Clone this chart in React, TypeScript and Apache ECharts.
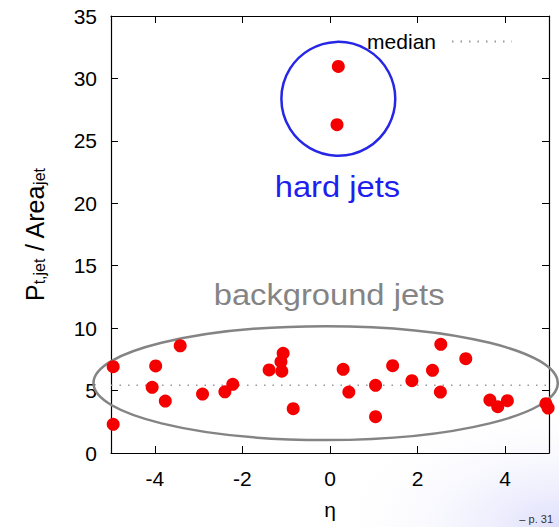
import React, { useEffect, useRef } from 'react';
import * as echarts from 'echarts';

// background jets (eta, pt/area)
const bgEta = [-4.95, -4.95, -3.98, -4.06, -3.76, -3.42, -2.91, -2.40, -2.22, -1.39, -1.07, -1.12, -1.10, -0.84, 0.30, 0.43, 1.04, 1.04, 1.43, 1.87, 2.34, 2.53, 2.52, 3.10, 3.65, 3.83, 4.05, 4.93, 4.98];
const bgVal = [6.91, 2.30, 6.97, 5.26, 4.16, 8.59, 4.72, 4.90, 5.50, 6.65, 7.98, 7.30, 6.55, 3.55, 6.70, 4.88, 5.42, 2.91, 6.99, 5.79, 6.62, 8.70, 4.88, 7.55, 4.24, 3.71, 4.19, 3.95, 3.60];
// hard jets
const hardEta = [0.19, 0.16];
const hardVal = [30.96, 26.3];
// median of background
const medianVal = 5.42;
const xExtent = [-5, 5];
const yExtent = [0, 35];
const yInterval = 5;

const FONT = '"Liberation Sans", Arial, Helvetica, sans-serif';

export default function App() {
  const ref = useRef<HTMLDivElement>(null);
  useEffect(() => {
    if (!ref.current) return;
    const chart = echarts.init(ref.current, undefined, { renderer: 'svg' });
    const axisCommon = {
      axisLine: { show: true, onZero: false, lineStyle: { color: '#000', width: 1.2 } },
      axisTick: { show: true, inside: true, length: 7, lineStyle: { color: '#000', width: 1 } },
      splitLine: { show: false },
    };
    chart.setOption({
      animation: false,
      backgroundColor: '#fff',
      grid: { left: 111, right: 10, top: 16, bottom: 74, containLabel: false },
      legend: {
        data: ['median'],
        right: 41,
        top: 26,
        align: 'right',
        itemWidth: 60,
        itemHeight: 10,
        itemStyle: { opacity: 0 },
        textStyle: { fontFamily: FONT, fontSize: 21, color: '#000', padding: [0, 11, 0, 0] },
      },
      xAxis: [
        {
          type: 'value',
          min: xExtent[0],
          max: xExtent[1],
          splitNumber: 5,
          ...axisCommon,
          axisLabel: { showMinLabel: false, showMaxLabel: false, margin: 15, fontFamily: FONT, fontSize: 21, color: '#000' },
          name: 'η',
          nameLocation: 'middle',
          nameGap: 46,
          nameTextStyle: { fontFamily: FONT, fontSize: 21, color: '#000' },
        },
        {
          type: 'value',
          position: 'top',
          min: xExtent[0],
          max: xExtent[1],
          splitNumber: 5,
          ...axisCommon,
          axisLabel: { show: false },
        },
      ],
      yAxis: [
        {
          type: 'value',
          min: yExtent[0],
          max: yExtent[1],
          interval: yInterval,
          ...axisCommon,
          axisLabel: { margin: 14, fontFamily: FONT, fontSize: 21, color: '#000' },
          name: '{m|P}{s|t,jet}{m| / Area}{s|jet}',
          nameLocation: 'middle',
          nameRotate: 90,
          nameGap: 64,
          nameTextStyle: {
            fontFamily: FONT,
            color: '#000',
            rich: {
              m: { fontFamily: FONT, fontSize: 25, lineHeight: 25, verticalAlign: 'top', padding: [0, 0, 5, 0], color: '#000' },
              s: { fontFamily: FONT, fontSize: 16, lineHeight: 16, verticalAlign: 'bottom', color: '#000' },
            },
          },
        },
        {
          type: 'value',
          position: 'right',
          min: yExtent[0],
          max: yExtent[1],
          interval: yInterval,
          ...axisCommon,
          axisLabel: { show: false },
        },
      ],
      series: [
        {
          name: 'median',
          type: 'line',
          symbol: 'none',
          data: [[xExtent[0], medianVal], [xExtent[1], medianVal]],
          lineStyle: { color: '#999', width: 1.5, type: [1.5, 7] },
          itemStyle: { color: '#999' },
          z: 1,
        },
        {
          name: 'background',
          type: 'scatter',
          symbolSize: 13,
          clip: false,
          itemStyle: { color: '#f50000', opacity: 1 },
          data: bgEta.map((e, i) => [e, bgVal[i]]),
          z: 3,
        },
        {
          name: 'hard',
          type: 'scatter',
          symbolSize: 13,
          clip: false,
          itemStyle: { color: '#f50000', opacity: 1 },
          data: hardEta.map((e, i) => [e, hardVal[i]]),
          z: 3,
        },
      ],
    });

    const px = (x: number, y: number) => chart.convertToPixel({ gridIndex: 0 }, [x, y]) as number[];
    const unitX = px(1, 0)[0] - px(0, 0)[0];
    const unitY = px(0, 0)[1] - px(0, 1)[1];
    const circC = px(0.19, 28.37);
    const ellC = px(-0.10, 5.6);
    const hardLbl = px(0.17, 21.3);
    const bgLbl = px(-0.02, 12.65);

    chart.setOption({
      graphic: [
        {
          type: 'rect',
          z: -10,
          silent: true,
          shape: { x: 330, y: 400, width: 229, height: 127 },
          style: {
            fill: new echarts.graphic.RadialGradient(1, 1, 1, [
              { offset: 0, color: 'rgba(200,200,250,0.6)' },
              { offset: 1, color: 'rgba(255,255,255,0)' },
            ]),
          },
        },
        {
          type: 'circle',
          silent: true,
          z: 1,
          shape: { cx: circC[0], cy: circC[1], r: 4.56 * unitY },
          style: { fill: 'none', stroke: '#2626e6', lineWidth: 2.5 },
        },
        {
          type: 'ellipse',
          silent: true,
          z: 1,
          shape: { cx: ellC[0], cy: ellC[1], rx: 5.3 * unitX, ry: 4.56 * unitY },
          style: { fill: 'none', stroke: '#848484', lineWidth: 2.5 },
        },
        {
          type: 'text',
          silent: true,
          x: hardLbl[0],
          y: hardLbl[1],
          scaleX: 1.09,
          style: { text: 'hard jets', x: 0, y: 0, align: 'center', verticalAlign: 'middle', fontFamily: FONT, fontSize: 30, fill: '#1e1ef0' },
        },
        {
          type: 'text',
          silent: true,
          x: bgLbl[0],
          y: bgLbl[1],
          scaleX: 1.09,
          style: { text: 'background jets', x: 0, y: 0, align: 'center', verticalAlign: 'middle', fontFamily: FONT, fontSize: 30, fill: '#848484' },
        },
        {
          type: 'text',
          silent: true,
          x: 553,
          y: 524,
          style: { text: '– p. 31', align: 'right', verticalAlign: 'bottom', fontFamily: FONT, fontSize: 11, fill: '#333' },
        },
      ],
    });

    return () => chart.dispose();
  }, []);
  return <div ref={ref} style={{ width: 559, height: 527, position: 'absolute', left: 0, top: 0 }} />;
}
